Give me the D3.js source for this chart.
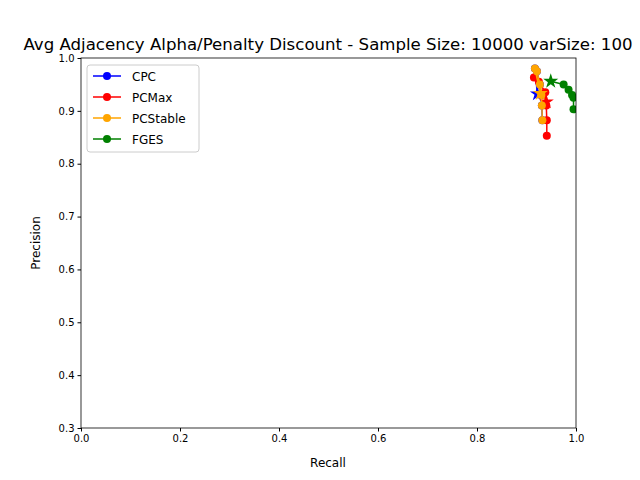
<!DOCTYPE html>
<meta charset="utf-8">
<style>
  body { margin: 0; }
  text { font-family: "DejaVu Sans", sans-serif; }
</style>
<svg width="640" height="480"></svg>
<script src="https://d3js.org/d3.v7.min.js"></script>
<script>
  var names = ["CPC", "PCMax", "PCStable", "FGES"];
  var colors = ["blue", "red", "orange", "green"];
  var cpcRecall = [0.917, 0.921, 0.927, 0.929, 0.931, 0.932];
  var cpcPrecision = [0.980, 0.975, 0.950, 0.930, 0.910, 0.882];
  var cpcStar = [0.922, 0.932];
  var pcmaxRecall = [0.915, 0.925, 0.938, 0.940, 0.941, 0.941];
  var pcmaxPrecision = [0.963, 0.955, 0.935, 0.910, 0.882, 0.853];
  var pcmaxStar = [0.940, 0.917];
  var pcstableRecall = [0.917, 0.921, 0.927, 0.930, 0.931, 0.932];
  var pcstablePrecision = [0.980, 0.975, 0.950, 0.930, 0.910, 0.882];
  var pcstableStar = [0.928, 0.933];
  var fgesRecall = [0.975, 0.985, 0.992, 0.995, 0.995];
  var fgesPrecision = [0.950, 0.940, 0.930, 0.925, 0.903];
  var fgesStar = [0.949, 0.956];
  var xTicks = [0, 0.2, 0.4, 0.6, 0.8, 1.0];
  var yTicks = [0.3, 0.4, 0.5, 0.6, 0.7, 0.8, 0.9, 1.0];

  var series = [
    [cpcRecall, cpcPrecision, cpcStar],
    [pcmaxRecall, pcmaxPrecision, pcmaxStar],
    [pcstableRecall, pcstablePrecision, pcstableStar],
    [fgesRecall, fgesPrecision, fgesStar]
  ];

  var svg = d3.select("svg");
  var x = d3.scaleLinear().domain([0, 1]).range([81, 576]);
  var y = d3.scaleLinear().domain([0.3, 1]).range([428, 58]);

  var plot = svg.append("g");
  plot.append("clipPath").attr("id", "c").append("rect")
    .attr("x", 81).attr("y", 58).attr("width", 495).attr("height", 370);
  var inner = plot.append("g").attr("clip-path", "url(#c)");

  var star = d3.symbol().type(d3.symbolStar).size(70);
  var ln = d3.line().x(function (d) { return x(d[0]); }).y(function (d) { return y(d[1]); });
  series.forEach(function (s, i) {
    var pts = s[0].map(function (r, j) { return [r, s[1][j]]; });
    inner.append("path").attr("d", ln(pts))
      .attr("fill", "none").attr("stroke", colors[i]).attr("stroke-width", 1.5);
    inner.append("path").attr("d", ln([pts[0], s[2]]))
      .attr("fill", "none").attr("stroke", colors[i]).attr("stroke-width", 1.5);
    inner.selectAll(null).data(pts).enter().append("circle")
      .attr("cx", function (d) { return x(d[0]); })
      .attr("cy", function (d) { return y(d[1]); })
      .attr("r", 4).attr("fill", colors[i]);
    inner.append("path").attr("d", star)
      .attr("transform", "translate(" + x(s[2][0]) + "," + y(s[2][1]) + ")")
      .attr("fill", colors[i]);
  });

  svg.append("g").attr("transform", "translate(0,428)")
    .call(d3.axisBottom(x).tickValues(xTicks).tickFormat(d3.format(".1f")).tickSizeOuter(0).tickSize(3.5))
    .call(function (g) { g.selectAll("text").attr("font-size", 10).attr("fill", "#000").attr("font-family", "DejaVu Sans"); });
  svg.append("g").attr("transform", "translate(81,0)")
    .call(d3.axisLeft(y).tickValues(yTicks).tickFormat(d3.format(".1f")).tickSizeOuter(0).tickSize(3.5))
    .call(function (g) { g.selectAll("text").attr("font-size", 10).attr("fill", "#000").attr("font-family", "DejaVu Sans"); });
  svg.selectAll(".domain").remove();
  svg.append("rect").attr("x", 81).attr("y", 58).attr("width", 495).attr("height", 370)
    .attr("fill", "none").attr("stroke", "#000").attr("stroke-width", 0.8);

  svg.append("text").attr("x", 328).attr("y", 50).attr("text-anchor", "middle")
    .attr("font-size", 16.6).text("Avg Adjacency Alpha/Penalty Discount - Sample Size: 10000 varSize: 100");
  svg.append("text").attr("x", 328).attr("y", 467).attr("text-anchor", "middle")
    .attr("font-size", 12).text("Recall");
  svg.append("text").attr("transform", "translate(40,243) rotate(-90)").attr("text-anchor", "middle")
    .attr("font-size", 12).text("Precision");

  var leg = svg.append("g");
  leg.append("rect").attr("x", 87).attr("y", 65).attr("width", 112).attr("height", 87).attr("rx", 3)
    .attr("fill", "#fff").attr("fill-opacity", 0.8).attr("stroke", "#ccc");
  names.forEach(function (n, i) {
    var yy = 76 + i * 21;
    leg.append("line").attr("x1", 93).attr("x2", 121).attr("y1", yy).attr("y2", yy)
      .attr("stroke", colors[i]).attr("stroke-width", 1.5);
    leg.append("circle").attr("cx", 107).attr("cy", yy).attr("r", 4).attr("fill", colors[i]);
    leg.append("text").attr("x", 132).attr("y", yy + 4.5).attr("font-size", 12).text(n);
  });
</script>
